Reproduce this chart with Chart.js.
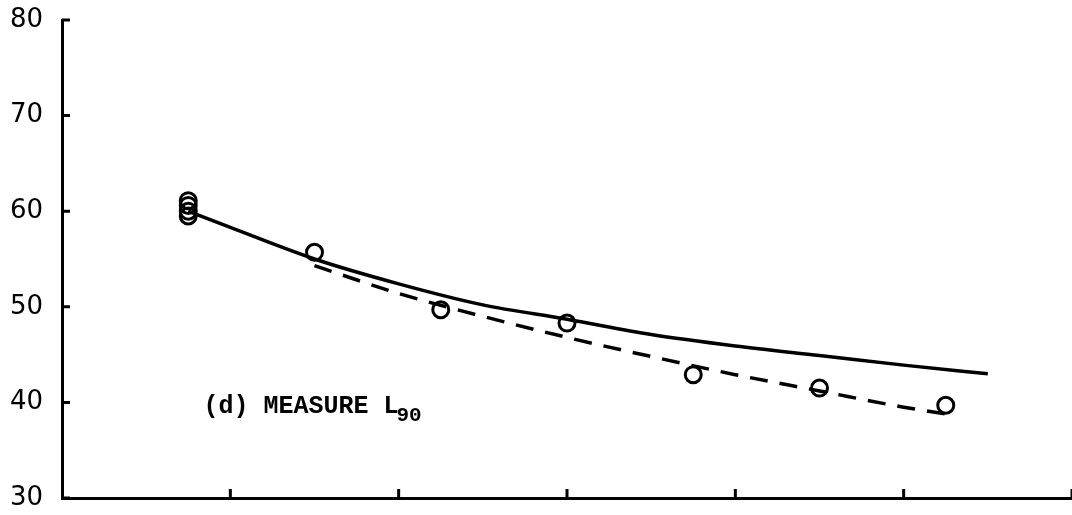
<!DOCTYPE html>
<html>
<head>
<meta charset="utf-8">
<script src="https://cdn.jsdelivr.net/npm/chart.js@4"></script>
<style>
  html, body { margin: 0; padding: 0; background: #fff; }
  #wrap { width: 1072px; height: 515px; }
</style>
</head>
<body>
<div id="wrap"><canvas id="measureChart" width="1072" height="515"></canvas></div>
<script>
// axis ticks
const xTicks = [1, 2, 3, 4, 5, 6];
const yTicks = [30, 40, 50, 60, 70, 80];

// measured points (open circles)
const measuredX = [0.75, 0.75, 0.75, 0.75, 1.5, 2.25, 3.0, 3.75, 4.5, 5.25];
const measuredY = [61.1, 60.6, 60.0, 59.5, 55.7, 49.7, 48.3, 42.9, 41.5, 39.7];

// solid curve
const solidX = [0.75, 1.0, 1.5, 2.0, 2.5, 3.0, 3.5, 4.0, 4.5, 5.0, 5.5];
const solidY = [60.0, 58.3, 55.0, 52.4, 50.2, 48.7, 47.1, 45.9, 44.9, 43.9, 43.0];

// dashed curve
const dashX = [1.5, 2.0, 2.5, 3.0, 3.5, 4.0, 4.5, 5.0, 5.25];
const dashY = [54.3, 51.4, 49.0, 46.8, 44.8, 42.9, 41.2, 39.5, 38.8];

const toPoints = (xs, ys) => xs.map((x, i) => ({ x: x, y: ys[i] }));

// inward tick marks plus the panel caption
const axisMarks = {
  id: 'axisMarks',
  afterDraw(chart) {
    const ctx = chart.ctx;
    const xs = chart.scales.x;
    const ys = chart.scales.y;
    const area = chart.chartArea;
    ctx.save();
    ctx.strokeStyle = '#000';
    ctx.lineWidth = 3;
    ctx.beginPath();
    yTicks.forEach(v => {
      const py = ys.getPixelForValue(v);
      ctx.moveTo(area.left, py);
      ctx.lineTo(area.left + 8, py);
    });
    xTicks.forEach(v => {
      const px = xs.getPixelForValue(v);
      ctx.moveTo(px, area.bottom);
      ctx.lineTo(px, area.bottom - 9);
    });
    ctx.stroke();

    // caption
    const tx = xs.getPixelForValue(0.84);
    const ty = ys.getPixelForValue(38.9);
    ctx.fillStyle = '#000';
    ctx.textBaseline = 'alphabetic';
    ctx.font = 'bold 25px "Liberation Mono"';
    const main = '(d) MEASURE L';
    ctx.fillText(main, tx, ty);
    const w = ctx.measureText(main).width;
    ctx.font = 'bold 21px "Liberation Mono"';
    ctx.fillText('90', tx + w - 2, ty + 8);
    ctx.restore();
  }
};

new Chart(document.getElementById('measureChart'), {
  type: 'scatter',
  data: {
    datasets: [
      {
        data: toPoints(solidX, solidY),
        showLine: true,
        borderColor: '#000',
        borderWidth: 3.5,
        pointRadius: 0,
        cubicInterpolationMode: 'monotone'
      },
      {
        data: toPoints(dashX, dashY),
        showLine: true,
        borderColor: '#000',
        borderWidth: 3.5,
        borderDash: [18, 12],
        pointRadius: 0,
        cubicInterpolationMode: 'monotone'
      },
      {
        data: toPoints(measuredX, measuredY),
        showLine: false,
        pointRadius: 8,
        pointBorderWidth: 3,
        pointBorderColor: '#000',
        pointBackgroundColor: 'rgba(0,0,0,0)'
      }
    ]
  },
  options: {
    responsive: false,
    animation: false,
    layout: { autoPadding: false, padding: { top: 20, right: 0, bottom: 17, left: 0 } },
    plugins: {
      legend: { display: false },
      tooltip: { enabled: false }
    },
    scales: {
      x: {
        type: 'linear',
        min: 0,
        max: 6,
        grid: { display: false, drawTicks: false },
        border: { color: '#000', width: 3 },
        ticks: { display: false },
        afterFit: scale => { scale.height = 0; }
      },
      y: {
        min: 30,
        max: 80,
        grid: { display: false, drawTicks: false },
        border: { color: '#000', width: 3 },
        ticks: {
          stepSize: 10,
          padding: 19,
          color: '#000',
          font: { family: '"DejaVu Sans"', size: 26 }
        },
        afterFit: scale => {
          scale.width = 62;
          scale.paddingTop = 0;
          scale.paddingBottom = 0;
        }
      }
    }
  },
  plugins: [axisMarks]
});
</script>
</body>
</html>
